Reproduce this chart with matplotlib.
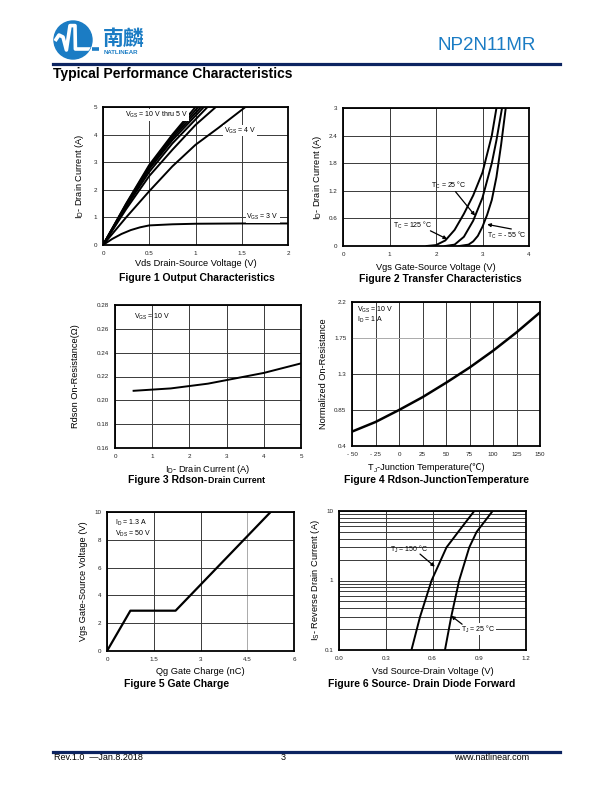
import numpy as np
import matplotlib
matplotlib.use('Agg')
import matplotlib.pyplot as plt
from matplotlib.patches import Circle
from matplotlib.lines import Line2D
from matplotlib.ticker import LogLocator, NullFormatter

plt.rcParams['font.family'] = ['Liberation Sans', 'Noto Sans CJK SC', 'DejaVu Sans']
plt.rcParams['mathtext.default'] = 'regular'

# Figure 1 - output characteristics (Vds, Id) per Vgs
out_10v = ([0, 0.25, 0.5, 0.75, 1.00], [0, 1.50, 2.90, 4.00, 5.0])
out_9v = ([0, 0.25, 0.5, 0.75, 1.03], [0, 1.48, 2.85, 3.95, 5.0])
out_8v = ([0, 0.25, 0.5, 0.75, 1.06], [0, 1.45, 2.80, 3.88, 5.0])
out_7v = ([0, 0.25, 0.5, 0.75, 1.09], [0, 1.42, 2.75, 3.80, 5.0])
out_6v = ([0, 0.25, 0.5, 0.75, 1.13], [0, 1.38, 2.65, 3.68, 5.0])
out_5v = ([0, 0.25, 0.5, 0.75, 1.0, 1.22], [0, 1.30, 2.50, 3.45, 4.35, 5.0])
out_4v = ([0, 0.25, 0.5, 0.75, 1.0, 1.25, 1.54], [0, 1.00, 1.95, 2.85, 3.63, 4.25, 5.0])
out_3v = ([0, 0.1, 0.2, 0.3, 0.4, 0.5, 0.75, 1.0, 1.5, 2.0],
          [0, 0.22, 0.40, 0.54, 0.64, 0.71, 0.75, 0.77, 0.78, 0.78])

# Figure 2 - transfer characteristics (Vgs, Id) per case temperature
tr_125 = ([1.8, 2.0, 2.2, 2.4, 2.6, 2.8, 3.0, 3.2, 3.3], [0, 0.02, 0.12, 0.35, 0.70, 1.10, 1.60, 2.40, 3.0])
tr_25 = ([2.2, 2.4, 2.6, 2.8, 3.0, 3.2, 3.3, 3.42], [0, 0.03, 0.20, 0.55, 1.05, 1.80, 2.30, 3.0])
tr_m55 = ([2.5, 2.7, 2.8, 2.9, 3.0, 3.1, 3.2, 3.3, 3.4, 3.5],
          [0, 0.03, 0.10, 0.22, 0.42, 0.68, 1.00, 1.50, 2.20, 3.0])

# Figure 3 - Rdson vs drain current
rd_id = [0.5, 1.0, 1.5, 2.0, 2.5, 3.0, 3.5, 4.0, 4.5, 5.0]
rd_ohm = [0.208, 0.209, 0.210, 0.212, 0.214, 0.217, 0.220, 0.223, 0.227, 0.231]

# Figure 4 - normalized Rdson vs junction temperature
tj = [-50, -25, 0, 25, 50, 75, 100, 125, 150]
rnorm = [0.58, 0.70, 0.85, 1.01, 1.19, 1.38, 1.59, 1.82, 2.07]

# Figure 5 - gate charge
qg = [0, 0.75, 2.2, 5.25]
vgs_q = [0, 2.9, 2.9, 10]

# Figure 6 - body diode forward
vsd_150 = [0.465, 0.52, 0.594, 0.69, 0.765, 0.868]
is_150 = [0.1, 0.3, 1.0, 3.0, 5.0, 10]
vsd_25 = [0.68, 0.72, 0.771, 0.836, 0.883, 0.986]
is_25 = [0.1, 0.3, 1.0, 3.0, 5.0, 10]

W, H = 612, 792
BLUE = '#1b7cc4'
NAVY = '#0c2461'
fig = plt.figure(figsize=(W / 100, H / 100), dpi=100)


def box(l, t, r, b):
    return [l / W, 1 - b / H, (r - l) / W, (b - t) / H]


def ftext(x, y, s, **kw):
    return fig.text(x / W, 1 - y / H, s, **kw)


def make_axes(l, t, r, b, xlabel, ylabel, xlab_y, ylab_x):
    ax = fig.add_axes(box(l, t, r, b))
    for sp in ax.spines.values():
        sp.set_linewidth(1.3)
    ax.tick_params(which='both', length=0, labelsize=4.5, pad=4, colors='#222')
    ax.grid(True, color='#3a3a3a', lw=0.7)
    ax.set_axisbelow(True)
    ax.set_xlabel(xlabel, fontsize=6.7)
    ax.set_ylabel(ylabel, fontsize=6.7)
    ax.xaxis.set_label_coords(0.5, -(xlab_y - 4.5 - b) / (b - t))
    ax.yaxis.set_label_coords(-(l - (ylab_x + 4.5)) / (r - l), 0.5)
    return ax


lab = dict(fontsize=5, bbox=dict(facecolor='white', edgecolor='none', pad=0.5))
curve = dict(color='black', lw=1.4)
arr = dict(arrowstyle='-|>', color='black', lw=0.9, mutation_scale=5, shrinkA=0, shrinkB=0)

# ---- Figure 1
ax1 = make_axes(103, 107, 288, 245, 'Vds Drain-Source Voltage (V)', r'I$_D$- Drain Current (A)', 263, 81)
for xs, ys in [out_10v, out_9v, out_8v, out_7v, out_6v, out_5v, out_4v, out_3v]:
    ax1.plot(xs, ys, **curve)
ax1.set_xlim(0, 2)
ax1.set_ylim(0, 5)
ax1.set_xticks([0, 0.5, 1, 1.5, 2], ['0', '0.5', '1', '1.5', '2'])
ax1.set_yticks(range(6))
ax1.text(0.24, 4.72, r'V$_{GS}$ = 10 V thru 5 V', va='center', **lab)
ax1.text(1.31, 4.15, r'V$_{GS}$ = 4 V', va='center', **lab)
ax1.text(1.55, 1.0, r'V$_{GS}$ = 3 V', va='center', **lab)
ftext(197, 278, 'Figure 1 Output Characteristics', fontsize=7.5, weight='bold', ha='center', va='center')

# ---- Figure 2
ax2 = make_axes(343, 108, 529, 246, 'Vgs Gate-Source Voltage (V)', r'I$_D$- Drain Current (A)', 267, 320)
for xs, ys in [tr_125, tr_25, tr_m55]:
    ax2.plot(xs, ys, **curve)
ax2.set_xlim(0, 4)
ax2.set_ylim(0, 3)
ax2.set_xticks(range(5))
ax2.set_yticks([0, 0.6, 1.2, 1.8, 2.4, 3], ['0', '0.6', '1.2', '1.8', '2.4', '3'])
ax2.text(1.9, 1.32, r'T$_C$ = 25 °C', fontsize=5, va='center')
ax2.annotate('', xy=(2.84, 0.66), xytext=(2.42, 1.18), arrowprops=arr)
ax2.text(1.08, 0.45, r'T$_C$ = 125 °C', fontsize=5, va='center')
ax2.annotate('', xy=(2.24, 0.15), xytext=(1.88, 0.33), arrowprops=arr)
ax2.text(3.1, 0.22, r'T$_C$ = - 55 °C', fontsize=5, va='center')
ax2.annotate('', xy=(3.1, 0.47), xytext=(3.62, 0.37), arrowprops=arr)
ftext(440, 279, 'Figure 2 Transfer Characteristics', fontsize=7.5, weight='bold', ha='center', va='center')

# ---- Figure 3
ax3 = make_axes(115, 305, 301, 448, r'I$_D$- Drain Current (A)', 'Rdson On-Resistance(Ω)', 467, 75)
ax3.plot(rd_id, rd_ohm, **curve)
ax3.set_xlim(0, 5)
ax3.set_ylim(0.16, 0.28)
ax3.set_xticks(range(6))
yt3 = [0.16, 0.18, 0.20, 0.22, 0.24, 0.26, 0.28]
ax3.set_yticks(yt3, ['%.2f' % v for v in yt3])
ax3.text(0.5, 0.27, r'V$_{GS}$ = 10 V', fontsize=5, va='center')
ftext(207, 480, 'Figure 3 Rdson-', fontsize=7.5, weight='bold', ha='right', va='center')
ftext(208, 480.5, 'Drain Current', fontsize=6.3, weight='bold', ha='left', va='center')

# ---- Figure 4
ax4 = make_axes(352, 302, 540, 446, '', 'Normalized On-Resistance', 467, 324)
ax4.plot(tj, rnorm, color='black', lw=1.8)
ax4.set_xlim(-50, 150)
ax4.set_ylim(0.4, 2.2)
ax4.set_xticks(tj, ['- 50', '- 25', '0', '25', '50', '75', '100', '125', '150'])
ax4.set_yticks([0.4, 0.85, 1.3, 1.75, 2.2], ['0.4', '0.85', '1.3', '1.75', '2.2'])
ax4.get_ygridlines()[3].set_color('#aaa')
ax4.text(-45, 2.1, r'V$_{GS}$ = 10 V', fontsize=5, va='center')
ax4.text(-45, 1.97, r'I$_D$ = 1 A', fontsize=5, va='center')
# x label built from pieces: plain text keeps the font fallback for the ℃ sign
yb4 = 1 - 470 / H
t_T = ftext(368, 470, 'T', fontsize=6.7, ha='left', va='baseline')
t_J = ax4.annotate('J', xy=(1, yb4 - 1.8 / H), xycoords=(t_T, 'figure fraction'),
                   fontsize=4.6, ha='left', va='baseline', annotation_clip=False)
ax4.annotate('-Junction Temperature(℃)', xy=(1, yb4), xycoords=(t_J, 'figure fraction'),
             fontsize=6.7, ha='left', va='baseline', annotation_clip=False)
ftext(436, 480, 'Figure 4 Rdson-JunctionTemperature', fontsize=7.5, weight='bold', ha='center', va='center')

# ---- Figure 5
ax5 = make_axes(107, 512, 294, 651, 'Qg Gate Charge (nC)', 'Vgs Gate-Source Voltage (V)', 671, 83)
ax5.plot(qg, vgs_q, color='black', lw=1.6)
ax5.set_xlim(0, 6)
ax5.set_ylim(0, 10)
ax5.set_xticks([0, 1.5, 3, 4.5, 6], ['0', '1.5', '3', '4.5', '6'])
ax5.set_yticks(range(0, 11, 2))
ax5.get_xgridlines()[3].set_color('#aaa')
ax5.text(0.25, 9.2, r'I$_D$ = 1.3 A', fontsize=5, va='center')
ax5.text(0.25, 8.45, r'V$_{DS}$ = 50 V', fontsize=5, va='center')
ftext(177, 684, 'Figure 5 Gate Charge', fontsize=7.5, weight='bold', ha='center', va='center')

# ---- Figure 6
ax6 = make_axes(339, 511, 526, 650, 'Vsd Source-Drain Voltage (V)', r'I$_S$- Reverse Drain Current (A)', 671, 317)
ax6.set_yscale('log')
ax6.plot(vsd_150, is_150, **curve)
ax6.plot(vsd_25, is_25, **curve)
ax6.set_xlim(0, 1.2)
ax6.set_ylim(0.1, 10)
ax6.set_xticks([0, 0.3, 0.6, 0.9, 1.2], ['0.0', '0.3', '0.6', '0.9', '1.2'])
ax6.set_yticks([0.1, 1, 10], ['0.1', '1', '10'])
ax6.yaxis.set_minor_locator(LogLocator(subs=range(2, 10)))
ax6.yaxis.set_minor_formatter(NullFormatter())
ax6.grid(True, which='minor', axis='y', color='#3a3a3a', lw=0.7)
ax6.text(0.33, 2.8, r'T$_J$ = 150 °C', fontsize=5, va='center')
ax6.annotate('', xy=(0.615, 1.58), xytext=(0.52, 2.4), arrowprops=arr)
ax6.text(0.78, 0.2, r'T$_J$ = 25 °C', va='center', **lab)
ax6.annotate('', xy=(0.72, 0.31), xytext=(0.79, 0.235), arrowprops=arr)
ftext(422, 684, 'Figure 6 Source- Drain Diode Forward', fontsize=7.5, weight='bold', ha='center', va='center')

# ---- header
logo = fig.add_axes(box(52, 20, 104, 60))
logo.set_xlim(-1.05, 1.55)
logo.set_ylim(-1.0, 1.0)
logo.set_aspect('equal')
logo.axis('off')
disc = Circle((0, 0), 0.95, color=BLUE)
logo.add_patch(disc)
wave = logo.plot([-0.9, -0.7, -0.5, -0.33, -0.15, 0.1, 0.12, 1.3],
                 [-0.05, 0.25, 0.15, -0.5, 0.72, 0.72, -0.45, -0.45],
                 color='white', lw=2.6, solid_capstyle='butt')[0]
wave.set_clip_path(disc)
logo.plot([0.93, 1.3], [-0.45, -0.45], color=BLUE, lw=2.6, solid_capstyle='butt')

ftext(103, 39, '南麟', fontsize=15, weight='bold', color=BLUE, ha='left', va='center')
ftext(104, 52.5, 'NATLINEAR', fontsize=4.4, weight='bold', color=BLUE, ha='left', va='center')
ftext(536, 46, 'NP2N11MR', fontsize=13.5, color=BLUE, ha='right', va='center')
fig.add_artist(Line2D([53 / W, 560 / W], [1 - 64 / H] * 2, lw=2.3, color=NAVY))
ftext(53, 74, 'Typical Performance Characteristics', fontsize=10, weight='bold', ha='left', va='center')

# ---- footer
fig.add_artist(Line2D([53 / W, 560 / W], [1 - 751.5 / H] * 2, lw=2.3, color=NAVY))
ftext(54, 758, 'Rev.1.0  —Jan.8.2018', fontsize=6.5, ha='left', va='center')
ftext(283, 758, '3', fontsize=6.5, ha='center', va='center')
ftext(529, 758, 'www.natlinear.com', fontsize=6.5, ha='right', va='center')

fig.savefig('out.png', dpi=100)
